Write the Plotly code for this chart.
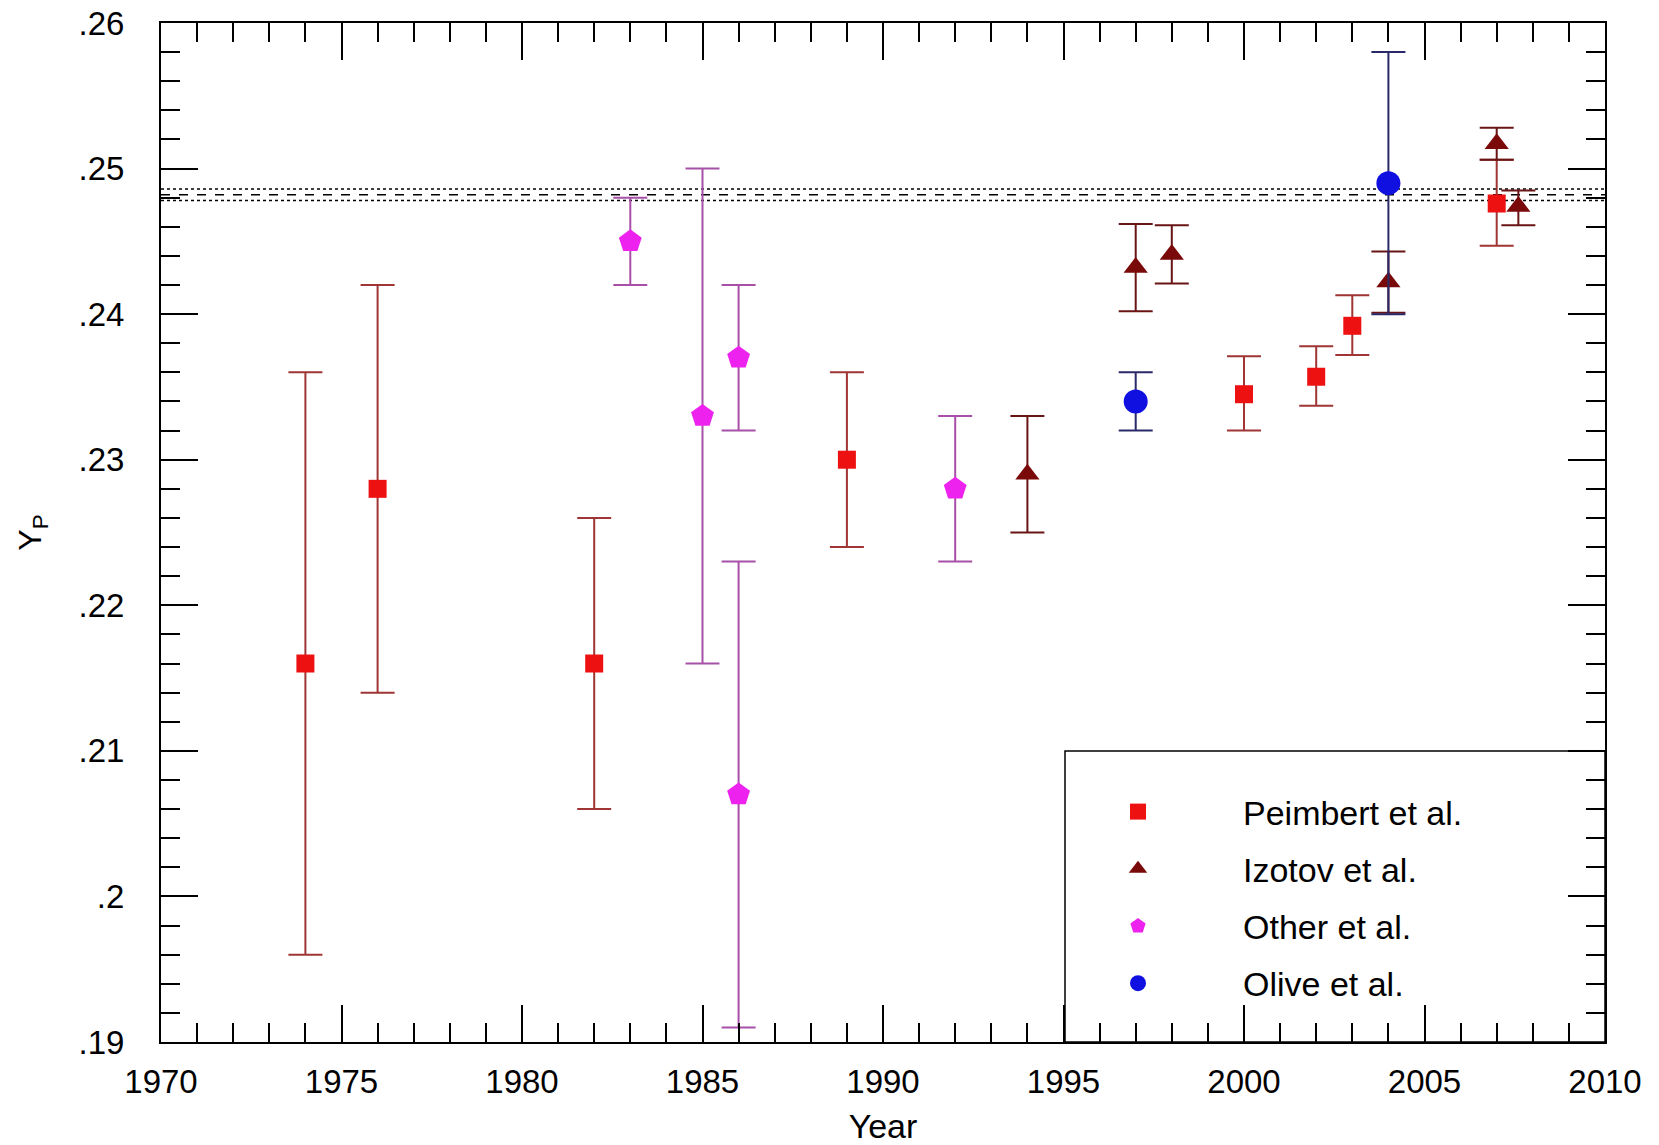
import plotly.graph_objects as go

# ---- data ----
peimbert_year = [1974, 1976, 1982, 1989, 2000, 2002, 2003, 2007]
peimbert_yp = [0.216, 0.228, 0.216, 0.230, 0.2345, 0.2357, 0.2392, 0.2476]
peimbert_err_plus = [0.020, 0.014, 0.010, 0.006, 0.0026, 0.0021, 0.0021, 0.0030]
peimbert_err_minus = [0.020, 0.014, 0.010, 0.006, 0.0025, 0.0020, 0.0020, 0.0029]

izotov_year = [1994, 1997, 1998, 2004, 2007, 2007.6]
izotov_yp = [0.229, 0.2432, 0.2441, 0.2422, 0.2517, 0.2474]
izotov_err_plus = [0.004, 0.003, 0.002, 0.0021, 0.0011, 0.0011]
izotov_err_minus = [0.004, 0.003, 0.002, 0.0021, 0.0011, 0.0013]

other_year = [1983, 1985, 1986, 1986, 1992]
other_yp = [0.245, 0.233, 0.237, 0.207, 0.228]
other_err = [0.003, 0.017, 0.005, 0.016, 0.005]

olive_year = [1997, 2004]
olive_yp = [0.234, 0.249]
olive_err = [0.002, 0.009]

ref_x = [1970, 2010]
ref_center = 0.2482
ref_low = 0.2478
ref_high = 0.2486

x_tickvals = [1970, 1975, 1980, 1985, 1990, 1995, 2000, 2005, 2010]
y_tickvals = [0.19, 0.20, 0.21, 0.22, 0.23, 0.24, 0.25, 0.26]
y_ticktext = [".19", ".2", ".21", ".22", ".23", ".24", ".25", ".26"]

FONT = "Liberation Sans, Arial, sans-serif"
W, H = 1659, 1145
ML, MR, MT, MB = 161, 54, 23, 103
PW, PH = W - ML - MR, H - MT - MB

fig = go.Figure()

# reference band lines
for val, dash in [(ref_high, "dot"), (ref_center, "dash"), (ref_low, "dot")]:
    fig.add_trace(go.Scatter(x=ref_x, y=[val, val], mode="lines",
                             line=dict(color="black", width=1.5, dash=dash),
                             showlegend=False, hoverinfo="skip"))

def series(name, xs, ys, ep, em, color, ecolor, symbol, size, group):
    fig.add_trace(go.Scatter(
        x=xs, y=ys, mode="markers", name=name, legendgroup=group,
        marker=dict(color=color, symbol=symbol, size=size, line=dict(width=0)),
        error_y=dict(type="data", symmetric=False, array=ep, arrayminus=em,
                     color=ecolor, thickness=2, width=17),
    ))

series("Peimbert et al.", peimbert_year, peimbert_yp, peimbert_err_plus, peimbert_err_minus,
       "#ee1111", "#a03535", "square", 18, "g1")
series("Izotov et al.", izotov_year, izotov_yp, izotov_err_plus, izotov_err_minus,
       "#7a0a0a", "#6a1515", "triangle-up", 21, "g2")
series("Other et al.", other_year, other_yp, other_err, other_err,
       "#ee22ee", "#a850a8", "pentagon", 24, "g3")
series("Olive et al.", olive_year, olive_yp, olive_err, olive_err,
       "#1010e0", "#2a2a6a", "circle", 24, "g4")

# legend frame (styling only)
fig.add_shape(type="rect", xref="paper", yref="paper",
              x0=(1065 - ML) / PW, x1=1.0, y0=0.0, y1=(H - MB - 751) / PH,
              line=dict(color="black", width=1.5), fillcolor="white", layer="below")

axis_common = dict(showline=True, linecolor="black", linewidth=2, mirror="ticks",
                   ticks="inside", tickcolor="black", tickwidth=1.5, ticklen=37,
                   showgrid=False, zeroline=False,
                   tickfont=dict(family=FONT, size=33, color="black"))

fig.update_xaxes(range=[1970, 2010], tickvals=x_tickvals,
                 minor=dict(dtick=1, ticks="inside", ticklen=19, tickcolor="black", tickwidth=1.5),
                 ticklabelstandoff=9,
                 title=dict(text="Year", font=dict(family=FONT, size=34, color="black"), standoff=16),
                 **axis_common)
fig.update_yaxes(range=[0.19, 0.26], tickvals=y_tickvals, ticktext=y_ticktext,
                 minor=dict(dtick=0.002, ticks="inside", ticklen=19, tickcolor="black", tickwidth=1.5),
                 ticklabelstandoff=28,
                 title=dict(text="Y<sub>P</sub>", font=dict(family=FONT, size=32, color="black"), standoff=27),
                 **axis_common)

fig.update_layout(
    width=W, height=H,
    margin=dict(l=ML, r=MR, t=MT, b=MB, autoexpand=False),
    plot_bgcolor="white", paper_bgcolor="white",
    font=dict(family=FONT, color="black"),
    showlegend=True,
    legend=dict(xref="paper", yref="paper",
                x=(1033 - ML) / PW, y=(H - MB - 783) / PH, xanchor="left", yanchor="top",
                bgcolor="rgba(0,0,0,0)", borderwidth=0,
                font=dict(family=FONT, size=34, color="black"),
                itemwidth=200, tracegroupgap=10, traceorder="grouped"),
)

fig.write_html("out.html")
